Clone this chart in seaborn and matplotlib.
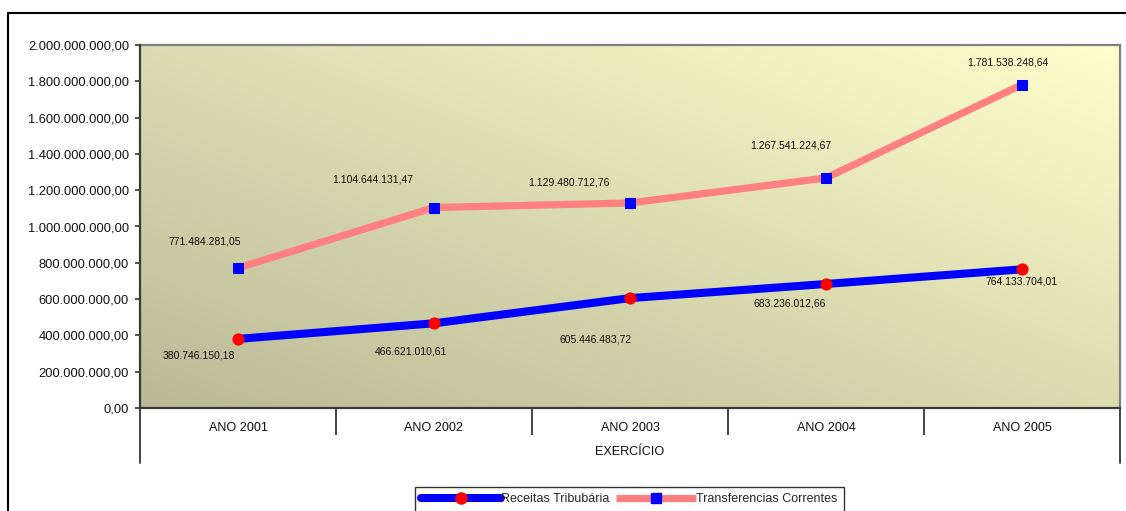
import numpy as np
import pandas as pd
import matplotlib
matplotlib.use("Agg")
import matplotlib.pyplot as plt
from matplotlib.lines import Line2D
from matplotlib.patches import Rectangle
import seaborn as sns

# Data
categorias = ["ANO 2001", "ANO 2002", "ANO 2003", "ANO 2004", "ANO 2005"]
receitas_tributaria = [380746150.18, 466621010.61, 605446483.72, 683236012.66, 764133704.01]
transferencias_correntes = [771484281.05, 1104644131.47, 1129480712.76, 1267541224.67, 1781538248.64]
y_ticks = [0, 2e8, 4e8, 6e8, 8e8, 1e9, 1.2e9, 1.4e9, 1.6e9, 1.8e9, 2e9]

serie_receitas = "Receitas Tribubária"
serie_transf = "Transferencias Correntes"
eixo_x = "EXERCÍCIO"


def br(v):
    s = f"{v:,.2f}"
    return s.replace(",", "X").replace(".", ",").replace("X", ".")


sns.set_theme(style="white")
plt.rcParams["font.family"] = ["Liberation Sans", "DejaVu Sans"]

W, H = 1126, 511
fig = plt.figure(figsize=(W / 100, H / 100), dpi=100)
ax = fig.add_axes([140 / W, (H - 408) / H, 980 / W, 363 / H])

# Diagonal gradient in the plot area
c0 = np.array([0xB9, 0xB9, 0x97]) / 255
c1 = np.array([0xFF, 0xFF, 0xCC]) / 255
u = np.linspace(0, 1, 300)[None, :]
v = np.linspace(0, 1, 200)[:, None]
t = ((u + v) / 2)[..., None]
grad = c0 + (c1 - c0) * t
ax.imshow(grad, extent=[-0.5, 4.5, 0, 2e9], origin="lower", aspect="auto", zorder=0)

df = pd.DataFrame({"cat": categorias,
                   "rec": receitas_tributaria,
                   "tra": transferencias_correntes})
df["pos"] = np.arange(len(df))

sns.lineplot(data=df, x="pos", y="tra", ax=ax, sort=False, color="#FF8080",
             lw=5.2, marker="s", ms=7.5, mfc="#0000FF", mec="#0000FF",
             solid_capstyle="butt", zorder=3)
sns.lineplot(data=df, x="pos", y="rec", ax=ax, sort=False, color="#0000FF",
             lw=5.8, marker="o", ms=8, mfc="#FF0000", mec="#FF0000",
             solid_capstyle="round", zorder=4)

# Value labels (offsets in pixels from each point)
off_rec = [(-39, -17), (-23, -28), (-34, -41), (-36, -20), (-1, -12)]
off_tra = [(-33, 26), (-61, 28), (-61, 20), (-35, 32), (-14, 22)]
for i, (r, tr) in enumerate(zip(receitas_tributaria, transferencias_correntes)):
    ax.annotate(br(r), (i, r), xytext=off_rec[i], textcoords="offset pixels",
                ha="center", va="center", fontsize=7.5, color="#111111", zorder=5)
    ax.annotate(br(tr), (i, tr), xytext=off_tra[i], textcoords="offset pixels",
                ha="center", va="center", fontsize=7.5, color="#111111", zorder=5)

ax.set_xlim(-0.5, 4.5)
ax.set_ylim(0, 2e9)
ax.set_yticks(y_ticks)
ax.set_yticklabels([br(y) for y in y_ticks], fontsize=9.3, color="#111111")
ax.tick_params(axis="y", which="major", direction="out", length=3.6, width=1.2,
               color="#333333", pad=4.3, left=True)

ax.set_xticks(range(len(categorias)))
ax.set_xticklabels(categorias, fontsize=9.1, color="#111111")
ax.set_xticks([0.5, 1.5, 2.5, 3.5], minor=True)
ax.tick_params(axis="x", which="major", length=0, pad=10)
ax.tick_params(axis="x", which="minor", direction="out", length=19.4, width=1.4,
               color="#444444", bottom=True)
ax.set_xlabel(eixo_x, fontsize=9.1, color="#111111")
ax.xaxis.set_label_coords(0.5, -0.105)
ax.set_ylabel("")

for side in ["top", "right"]:
    ax.spines[side].set_color("#808080")
    ax.spines[side].set_linewidth(1.6)
for side in ["left", "bottom"]:
    ax.spines[side].set_color("#3a3a3a")
    ax.spines[side].set_linewidth(1.6)
    ax.spines[side].set_zorder(6)

# Outer category boundaries reaching down past the axis label
for xa in (0, 1):
    ax.add_line(Line2D([xa, xa], [0, -55 / 363], transform=ax.transAxes,
                       color="#444444", lw=1.4, clip_on=False))

# Chart frame
fig.add_artist(Rectangle((8 / W, -0.1), 1.2, (H - 13) / H + 0.1,
                         transform=fig.transFigure, fill=False,
                         ec="black", lw=1.5))

handles = [
    Line2D([], [], color="#0000FF", lw=5.8, marker="o", ms=8, mfc="#FF0000",
           mec="#FF0000", solid_capstyle="round"),
    Line2D([], [], color="#FF8080", lw=5.2, marker="s", ms=7.5, mfc="#0000FF",
           mec="#0000FF", solid_capstyle="butt"),
]
leg = fig.legend(handles, [serie_receitas, serie_transf], loc="upper left",
                 bbox_to_anchor=(415 / W, (H - 487) / H), ncol=2, fontsize=9,
                 handlelength=6.4, handletextpad=0.0, columnspacing=0.5,
                 frameon=True, fancybox=False, borderpad=0.5,
                 borderaxespad=0, numpoints=1)
leg.get_frame().set_edgecolor("black")
leg.get_frame().set_linewidth(1.0)

fig.savefig("out.png", dpi=100)
